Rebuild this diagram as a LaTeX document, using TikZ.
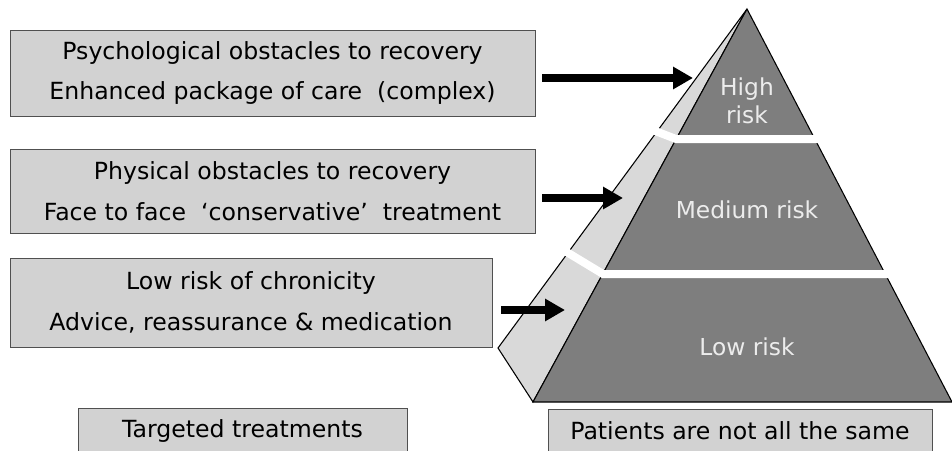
\documentclass[tikz,border=0pt]{standalone}
\usepackage{fontspec}
\setmainfont{DejaVu Sans}
\usetikzlibrary{arrows.meta}

\definecolor{boxgray}{HTML}{D2D2D2}
\definecolor{boxline}{HTML}{505050}
\definecolor{frontgray}{HTML}{7E7E7E}
\definecolor{sidegray}{HTML}{D9D9D9}
\definecolor{risktext}{HTML}{ECECEC}

\tikzset{
  treatbox/.style={draw=boxline, line width=0.6pt, fill=boxgray, align=center,
    inner sep=0pt, font=\fontsize{17.7}{30.5}\selectfont},
  riskarrow/.style={line width=6pt, -{Triangle[length=15pt,width=16pt]}},
  gapline/.style={draw=white, line width=6pt},
  risklabel/.style={text=risktext, align=center, font=\fontsize{17.5}{21}\selectfont}
}

\begin{document}
\begin{tikzpicture}[x=0.75pt,y=-0.75pt]
        \useasboundingbox (0,0) rectangle (952,450);

        % pyramid
        \coordinate (apex) at (747,9);
        \coordinate (sideL) at (498,348);
        \coordinate (baseL) at (533,402);
        \coordinate (baseR) at (952,402);
        \draw [fill=sidegray, line width=0.8pt] (apex) -- (sideL) -- (baseL) -- cycle;
        \draw [fill=frontgray, line width=0.8pt] (apex) -- (baseL) -- (baseR) -- cycle;
        \draw [gapline] (650,129) -- (676,139) -- (830,139);
        \draw [gapline] (560,248) -- (603,274) -- (905,274);

        \node[risklabel] (high) at (747,101) {High\\risk};
        \node[risklabel] (medium) at (747,210) {Medium risk};
        \node[risklabel] (low) at (747,347) {Low risk};

        % treatment boxes
        \node[treatbox, minimum width=525*0.75pt, minimum height=86*0.75pt] (psych) at (272.5,73)
            {Psychological obstacles to recovery\\Enhanced package of care\ \ (complex)};
        \node[treatbox, minimum width=525*0.75pt, minimum height=84*0.75pt] (phys) at (272.5,191)
            {Physical obstacles to recovery\\Face to face\ \ `conservative'\ \ treatment};
        \node[treatbox, minimum width=482*0.75pt, minimum height=89*0.75pt] (lowrisk) at (251,302.5)
            {Low risk of chronicity\\Advice, reassurance \& medication};

        \node[treatbox, minimum width=329*0.75pt, minimum height=45*0.75pt] (targeted) at (242.5,430.5)
            {Targeted treatments};
        \node[treatbox, minimum width=384*0.75pt, minimum height=44*0.75pt] (patients) at (740,431)
            {Patients are not all the same};

        % arrows
        \coordinate (tiphigh) at (693,78);
        \coordinate (tipmedium) at (623,198);
        \coordinate (tiplow) at (565,310);
        \draw [riskarrow] (psych.east |- tiphigh) ++(7,0) -- (tiphigh);
        \draw [riskarrow] (phys.east |- tipmedium) ++(7,0) -- (tipmedium);
        \draw [riskarrow] (lowrisk.east |- tiplow) ++(9,0) -- (tiplow);
    \end{tikzpicture}
\end{document}
